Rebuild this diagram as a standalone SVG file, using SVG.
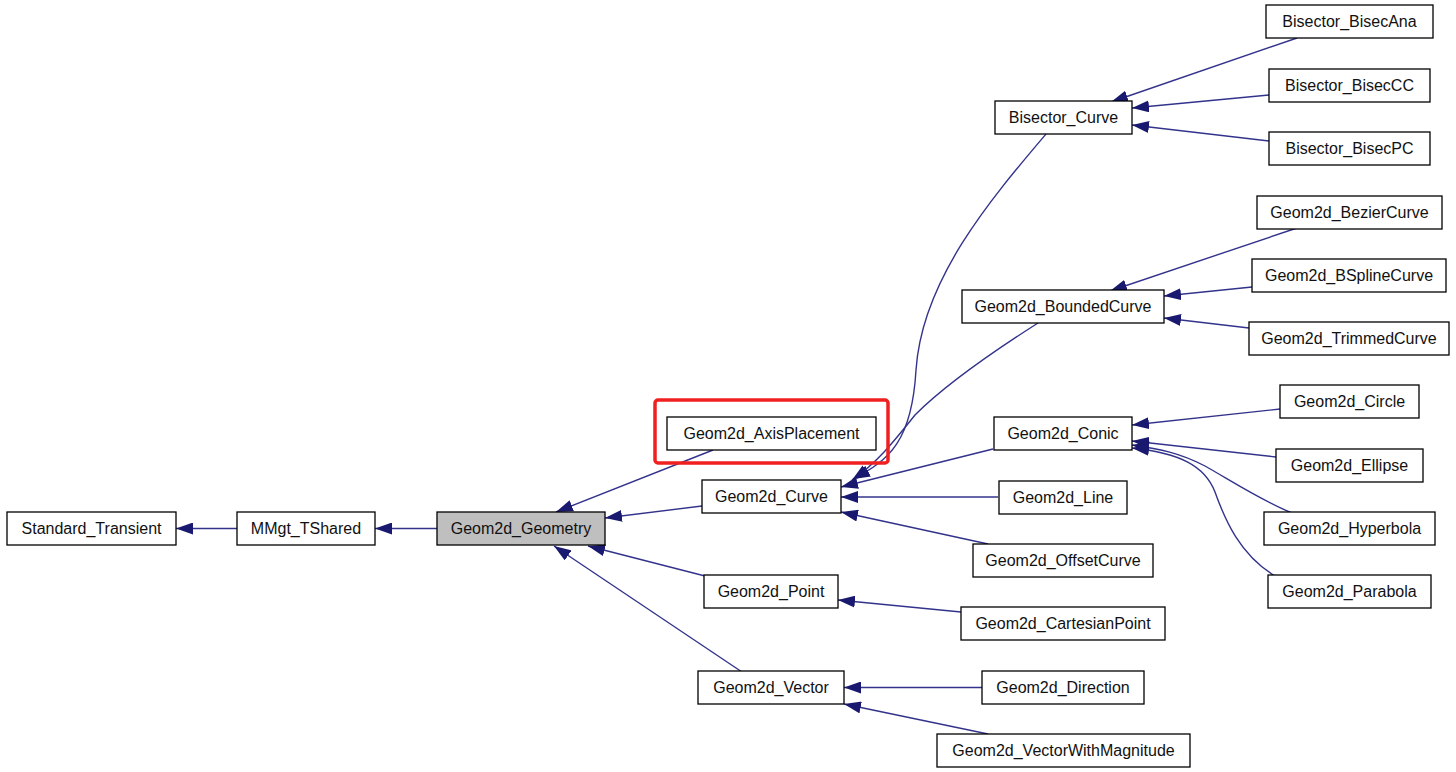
<svg xmlns="http://www.w3.org/2000/svg" width="1456" height="772" viewBox="0 0 1456 772">
<style>
  .n rect { fill: #ffffff; stroke: #000000; stroke-width: 1.3; }
  .n.cur rect { fill: #bfbfbf; }
  .n text { font-family: "Liberation Sans", Arial, sans-serif; font-size: 16px; fill: #111111; text-anchor: middle; }
  .e path { fill: none; stroke: #33338c; stroke-width: 1.4; marker-end: url(#arr); }
  .hl { fill: none; stroke: #f02020; stroke-width: 3.5; }
</style>
<defs>
  <marker id="arr" viewBox="0 0 17 12" refX="17" refY="6" markerWidth="17" markerHeight="12" markerUnits="userSpaceOnUse" orient="auto">
    <path d="M0,0 L17,6 L0,12 z" fill="#191970"/>
  </marker>
</defs>
<rect width="1456" height="772" fill="#ffffff"/>

<g id="connectors" class="e">
  <path d="M237,528.5 L176,528.5"/>
  <path d="M437,528.5 L375,528.5"/>
  <path d="M713,450 L556,512"/>
  <path d="M702,506 L605,518"/>
  <path d="M705,576 L588,546"/>
  <path d="M742,672 L554,546"/>
  <path d="M1046,134 C990,200 922,280 916,370 C912,440 890,460 853,479"/>
  <path d="M1038,323 C980,360 940,390 915,415 C895,440 878,462 852,480"/>
  <path d="M993,449 L841,487"/>
  <path d="M998,497 L841,497"/>
  <path d="M988,544 L841,512"/>
  <path d="M961,612 L838,600"/>
  <path d="M982,687.5 L844,687.5"/>
  <path d="M988,734 L844,704"/>
  <path d="M1297,38 L1111,102"/>
  <path d="M1269,95 L1132,108"/>
  <path d="M1269,141 L1132,125"/>
  <path d="M1297,228 L1110,291"/>
  <path d="M1252,287 L1164,296"/>
  <path d="M1249,328 L1164,318"/>
  <path d="M1280,409 L1132,425"/>
  <path d="M1276,457 L1132,441"/>
  <path d="M1292,513 C1260,500 1230,480 1205,466 C1180,453 1160,449 1132,445"/>
  <path d="M1275,576 C1240,555 1225,520 1215,492 C1205,466 1180,453 1132,448"/>
</g>

<rect class="hl" x="655" y="400" width="233" height="63" rx="3"/>

<g id="Standard_Transient" class="n"><rect x="7" y="512" width="169" height="33"/><text x="91.5" y="533.5">Standard_Transient</text></g>
<g id="MMgt_TShared" class="n"><rect x="237" y="512" width="138" height="33"/><text x="306" y="533.5">MMgt_TShared</text></g>
<g id="Geom2d_Geometry" class="n cur"><rect x="437" y="512" width="168" height="33"/><text x="521" y="533.5">Geom2d_Geometry</text></g>
<g id="Geom2d_AxisPlacement" class="n"><rect x="667" y="417" width="209" height="33"/><text x="771.5" y="438.5">Geom2d_AxisPlacement</text></g>
<g id="Geom2d_Curve" class="n"><rect x="702" y="480" width="139" height="33"/><text x="771.5" y="501.5">Geom2d_Curve</text></g>
<g id="Geom2d_Point" class="n"><rect x="704" y="575" width="134" height="33"/><text x="771" y="596.5">Geom2d_Point</text></g>
<g id="Geom2d_Vector" class="n"><rect x="698" y="671" width="146" height="33"/><text x="771" y="692.5">Geom2d_Vector</text></g>
<g id="Bisector_Curve" class="n"><rect x="995" y="101" width="137" height="33"/><text x="1063.5" y="122.5">Bisector_Curve</text></g>
<g id="Geom2d_BoundedCurve" class="n"><rect x="962" y="290" width="202" height="33"/><text x="1063" y="311.5">Geom2d_BoundedCurve</text></g>
<g id="Geom2d_Conic" class="n"><rect x="994" y="417" width="138" height="33"/><text x="1063" y="438.5">Geom2d_Conic</text></g>
<g id="Geom2d_Line" class="n"><rect x="999" y="481" width="128" height="33"/><text x="1063" y="502.5">Geom2d_Line</text></g>
<g id="Geom2d_OffsetCurve" class="n"><rect x="973" y="544" width="180" height="33"/><text x="1063" y="565.5">Geom2d_OffsetCurve</text></g>
<g id="Geom2d_CartesianPoint" class="n"><rect x="961" y="607" width="204" height="33"/><text x="1063" y="628.5">Geom2d_CartesianPoint</text></g>
<g id="Geom2d_Direction" class="n"><rect x="982" y="671" width="162" height="33"/><text x="1063" y="692.5">Geom2d_Direction</text></g>
<g id="Geom2d_VectorWithMagnitude" class="n"><rect x="937" y="734" width="253" height="33"/><text x="1063.5" y="755.5">Geom2d_VectorWithMagnitude</text></g>
<g id="Bisector_BisecAna" class="n"><rect x="1266" y="5" width="167" height="33"/><text x="1349.5" y="26.5">Bisector_BisecAna</text></g>
<g id="Bisector_BisecCC" class="n"><rect x="1269" y="69" width="161" height="33"/><text x="1349.5" y="90.5">Bisector_BisecCC</text></g>
<g id="Bisector_BisecPC" class="n"><rect x="1269" y="132" width="161" height="33"/><text x="1349.5" y="153.5">Bisector_BisecPC</text></g>
<g id="Geom2d_BezierCurve" class="n"><rect x="1257" y="196" width="185" height="33"/><text x="1349.5" y="217.5">Geom2d_BezierCurve</text></g>
<g id="Geom2d_BSplineCurve" class="n"><rect x="1252" y="259" width="194" height="33"/><text x="1349" y="280.5">Geom2d_BSplineCurve</text></g>
<g id="Geom2d_TrimmedCurve" class="n"><rect x="1249" y="322" width="200" height="33"/><text x="1349" y="343.5">Geom2d_TrimmedCurve</text></g>
<g id="Geom2d_Circle" class="n"><rect x="1280" y="385" width="139" height="33"/><text x="1349.5" y="406.5">Geom2d_Circle</text></g>
<g id="Geom2d_Ellipse" class="n"><rect x="1276" y="449" width="147" height="33"/><text x="1349.5" y="470.5">Geom2d_Ellipse</text></g>
<g id="Geom2d_Hyperbola" class="n"><rect x="1264" y="512" width="171" height="33"/><text x="1349.5" y="533.5">Geom2d_Hyperbola</text></g>
<g id="Geom2d_Parabola" class="n"><rect x="1268" y="575" width="163" height="33"/><text x="1349.5" y="596.5">Geom2d_Parabola</text></g>
</svg>
